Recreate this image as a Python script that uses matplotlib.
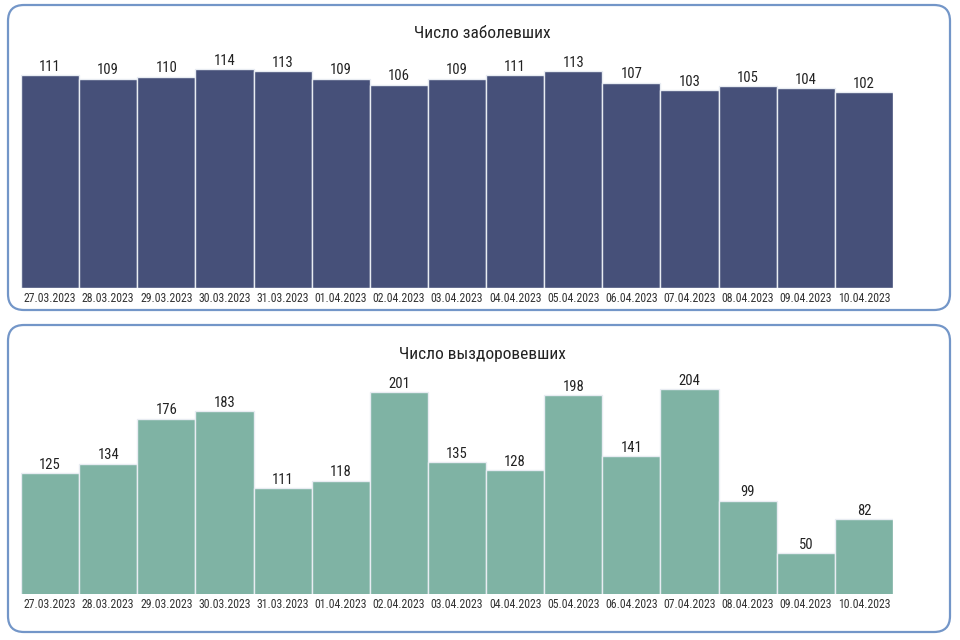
import matplotlib
matplotlib.use('Agg')
import matplotlib.pyplot as plt
from matplotlib.patches import FancyBboxPatch

dates = ['27.03.2023', '28.03.2023', '29.03.2023', '30.03.2023', '31.03.2023',
         '01.04.2023', '02.04.2023', '03.04.2023', '04.04.2023', '05.04.2023',
         '06.04.2023', '07.04.2023', '08.04.2023', '09.04.2023', '10.04.2023']
sick = [111, 109, 110, 114, 113, 109, 106, 109, 111, 113, 107, 103, 105, 104, 102]
recovered = [125, 134, 176, 183, 111, 118, 201, 135, 128, 198, 141, 204, 99, 50, 82]

plt.rcParams['font.family'] = ['Liberation Sans Narrow', 'Roboto Condensed', 'DejaVu Sans']

W, H = 960, 640
fig = plt.figure(figsize=(9.6, 6.4), dpi=100)
fig.patch.set_facecolor('white')

def px_box(x0, y0, x1, y1):
    # pixel box (top-left origin) -> figure fraction [l, b, w, h]
    return [x0 / W, 1 - y1 / H, (x1 - x0) / W, (y1 - y0) / H]

# rounded panel frames (drawn in inch units so corners stay round)
for (y0, y1) in [(5, 310), (325, 632)]:
    frame = FancyBboxPatch((8 / 100, (H - y1) / 100), (950 - 8) / 100, (y1 - y0) / 100,
                           boxstyle='round,pad=0,rounding_size=0.16',
                           transform=fig.dpi_scale_trans, facecolor='none',
                           edgecolor='#7396c8', linewidth=1.6, zorder=-5)
    fig.add_artist(frame)

panels = [
    (sick, 'Число заболевших', '#465079', px_box(21, 60, 893, 288), (0, 118.8), 34),
    (recovered, 'Число выздоровевших', '#7fb3a4', px_box(21, 365, 893, 594), (11.5, 226.5), 355),
]

for vals, title, color, rect, ylim, ty in panels:
    ax = fig.add_axes(rect, zorder=2)
    x = range(len(vals))
    bars = ax.bar(x, vals, width=1.0, color=color, edgecolor='#e8ecf2', linewidth=1.0)
    ax.bar_label(bars, labels=[str(v) for v in vals], padding=1, fontsize=10.5, color='#222222')
    ax.set_xlim(-0.5, len(vals) - 0.5)
    ax.set_ylim(*ylim)
    ax.set_xticks(list(x))
    ax.set_xticklabels(dates, fontsize=8.5, color='#333333')
    ax.tick_params(axis='x', length=0, pad=3)
    ax.set_yticks([])
    for s in ax.spines.values():
        s.set_visible(False)
    ax.patch.set_alpha(0)
    fig.text(482 / W, 1 - ty / H, title, ha='center', va='center', fontsize=12.5, color='#222222')

plt.savefig('out.png', dpi=100)
